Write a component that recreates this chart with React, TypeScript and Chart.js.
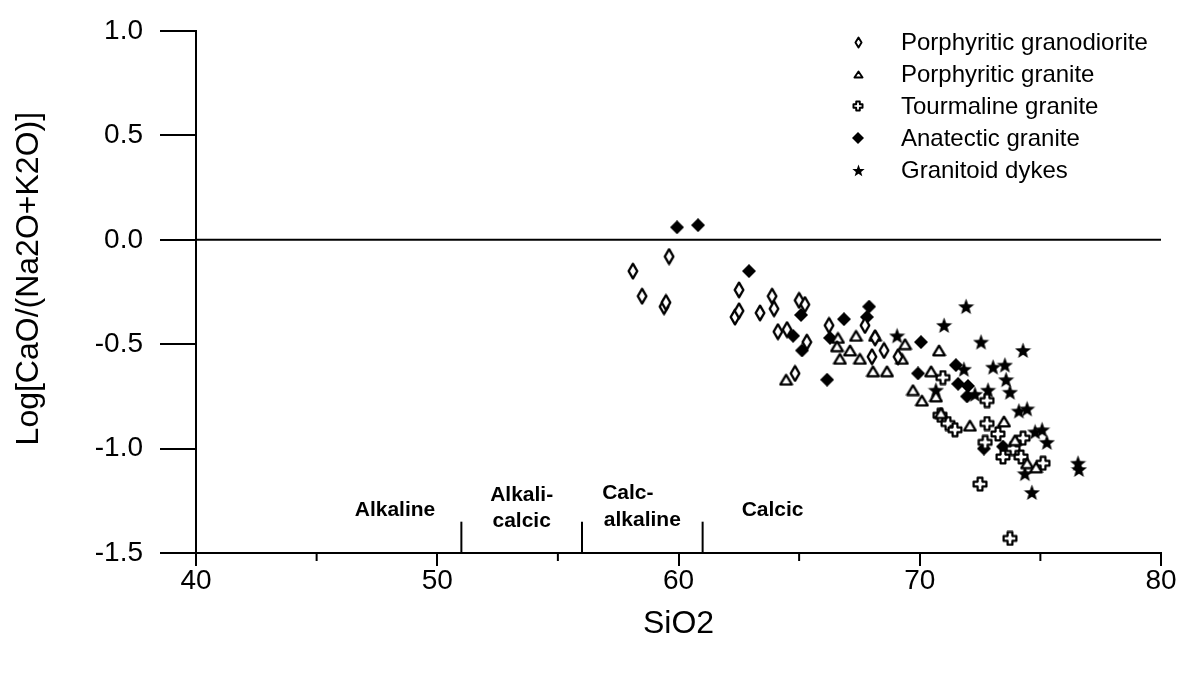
import React, { useEffect, useRef } from 'react';
import { Chart, registerables } from 'chart.js';

Chart.register(...registerables);

const FONT = '"Liberation Sans", Arial, Helvetica, sans-serif';

// ---- data ----
const granodioriteX = [59.61, 58.11, 58.49, 59.4, 59.48, 62.51, 62.34, 62.51, 63.38, 63.88, 63.96, 65.0, 65.24, 64.12, 64.5, 65.32, 64.83, 66.24, 67.73, 68.15, 68.52, 68.02, 69.1];
const granodioriteY = [-0.08, -0.15, -0.27, -0.32, -0.3, -0.24, -0.37, -0.34, -0.35, -0.27, -0.33, -0.29, -0.31, -0.44, -0.43, -0.49, -0.64, -0.41, -0.41, -0.47, -0.53, -0.56, -0.56];

const graniteX = [64.46, 66.61, 67.36, 66.57, 67.11, 66.69, 67.52, 68.15, 68.06, 68.64, 69.39, 69.26, 70.8, 70.47, 69.72, 70.09, 70.67, 70.88, 72.08, 73.49, 73.95, 74.45, 74.82];
const graniteY = [-0.67, -0.47, -0.46, -0.51, -0.53, -0.57, -0.57, -0.46, -0.63, -0.63, -0.5, -0.57, -0.53, -0.63, -0.72, -0.77, -0.75, -0.83, -0.89, -0.87, -0.96, -1.07, -1.09];

const tourmalineX = [70.96, 70.84, 71.17, 71.46, 72.79, 72.79, 72.71, 73.24, 73.45, 73.87, 74.2, 74.28, 75.11, 72.5, 73.74];
const tourmalineY = [-0.66, -0.84, -0.88, -0.91, -0.77, -0.88, -0.97, -0.93, -1.04, -1.0, -1.04, -0.95, -1.07, -1.17, -1.43];

const anatecticX = [59.94, 60.81, 62.92, 65.08, 65.12, 66.16, 66.86, 67.9, 67.81, 66.28, 64.75, 70.05, 69.93, 71.5, 71.59, 72.0, 71.96, 72.66, 73.45];
const anatecticY = [0.06, 0.07, -0.15, -0.36, -0.53, -0.67, -0.38, -0.32, -0.37, -0.47, -0.46, -0.49, -0.64, -0.6, -0.69, -0.7, -0.75, -1.0, -0.99];

const dykesX = [71.92, 71.01, 69.06, 72.54, 74.28, 73.04, 73.53, 71.83, 73.58, 73.74, 70.67, 72.83, 72.29, 74.11, 74.45, 74.78, 75.07, 75.27, 74.36, 74.65, 76.56, 76.6];
const dykesY = [-0.32, -0.41, -0.46, -0.49, -0.53, -0.61, -0.6, -0.62, -0.67, -0.73, -0.72, -0.72, -0.74, -0.82, -0.81, -0.92, -0.91, -0.97, -1.12, -1.21, -1.07, -1.1];

const seriesNames = ['Porphyritic granodiorite', 'Porphyritic granite', 'Tourmaline granite', 'Anatectic granite', 'Granitoid dykes'];

const xMin = 40;
const xMax = 80;
const xStep = 10;
const xMinorTicks = [45, 55, 65, 75];
const yMin = -1.5;
const yMax = 1.0;
const yStep = 0.5;

const referenceLineY = 0;
const boundaryX = [51, 56, 61];
const boundaryTop = -1.35;
const regionLabels = ['Alkaline', 'Alkali-', 'calcic', 'Calc-', 'alkaline', 'Calcic'];
const regionLabelX = [48.25, 53.5, 53.5, 57.9, 58.5, 63.9];
const regionLabelY = [-1.297, -1.221, -1.349, -1.216, -1.344, -1.297];

const xTitle = 'SiO2';
const yTitle = 'Log[CaO/(Na2O+K2O)]';

// ---- marker images ----
type Draw = (ctx: CanvasRenderingContext2D, w: number, h: number) => void;
function makeMarker(w: number, h: number, draw: Draw): HTMLCanvasElement {
  const c = document.createElement('canvas');
  c.width = w;
  c.height = h;
  const ctx = c.getContext('2d')!;
  ctx.lineJoin = 'round';
  draw(ctx, w, h);
  return c;
}

function openDiamond(w: number, h: number, lw: number) {
  return makeMarker(w, h, (ctx) => {
    const m = lw / 2 + 0.5;
    ctx.beginPath();
    ctx.moveTo(w / 2, m);
    ctx.lineTo(w - m, h / 2);
    ctx.lineTo(w / 2, h - m);
    ctx.lineTo(m, h / 2);
    ctx.closePath();
    ctx.fillStyle = '#fff';
    ctx.fill();
    ctx.lineWidth = lw;
    ctx.strokeStyle = '#000';
    ctx.stroke();
  });
}

function filledDiamond(w: number, h: number) {
  return makeMarker(w, h, (ctx) => {
    ctx.beginPath();
    ctx.moveTo(w / 2, 0);
    ctx.lineTo(w, h / 2);
    ctx.lineTo(w / 2, h);
    ctx.lineTo(0, h / 2);
    ctx.closePath();
    ctx.fillStyle = '#000';
    ctx.fill();
  });
}

function openTriangle(w: number, h: number, lw: number) {
  return makeMarker(w, h, (ctx) => {
    const m = lw / 2 + 0.5;
    ctx.beginPath();
    ctx.moveTo(w / 2, m);
    ctx.lineTo(w - m, h - m);
    ctx.lineTo(m, h - m);
    ctx.closePath();
    ctx.fillStyle = '#fff';
    ctx.fill();
    ctx.lineWidth = lw;
    ctx.strokeStyle = '#000';
    ctx.stroke();
  });
}

function openCross(s: number, lw: number, armFrac: number) {
  return makeMarker(s, s, (ctx) => {
    const c = s / 2;
    const r = s / 2 - lw / 2 - 0.5;
    const a = s * armFrac;
    ctx.beginPath();
    ctx.moveTo(c - a, c - r);
    ctx.lineTo(c + a, c - r);
    ctx.lineTo(c + a, c - a);
    ctx.lineTo(c + r, c - a);
    ctx.lineTo(c + r, c + a);
    ctx.lineTo(c + a, c + a);
    ctx.lineTo(c + a, c + r);
    ctx.lineTo(c - a, c + r);
    ctx.lineTo(c - a, c + a);
    ctx.lineTo(c - r, c + a);
    ctx.lineTo(c - r, c - a);
    ctx.lineTo(c - a, c - a);
    ctx.closePath();
    ctx.fillStyle = '#fff';
    ctx.fill();
    ctx.lineWidth = lw;
    ctx.strokeStyle = '#000';
    ctx.stroke();
  });
}

function filledStar(s: number) {
  return makeMarker(s, s, (ctx) => {
    const c = s / 2;
    const ro = s / 2;
    const ri = ro * 0.42;
    ctx.beginPath();
    for (let i = 0; i < 10; i++) {
      const r = i % 2 === 0 ? ro : ri;
      const ang = -Math.PI / 2 + (i * Math.PI) / 5;
      const px = c + r * Math.cos(ang);
      const py = c + 0.6 + r * Math.sin(ang);
      if (i === 0) ctx.moveTo(px, py);
      else ctx.lineTo(px, py);
    }
    ctx.closePath();
    ctx.fillStyle = '#000';
    ctx.fill();
  });
}

function toPoints(xs: number[], ys: number[]) {
  return xs.map((x, i) => ({ x, y: ys[i] }));
}

export default function App() {
  const canvasRef = useRef<HTMLCanvasElement | null>(null);

  useEffect(() => {
    const canvas = canvasRef.current;
    if (!canvas) return;

    const plotMarkers = [
      openDiamond(12, 18, 2.4),
      openTriangle(15, 13, 2.3),
      openCross(16, 2.2, 0.15),
      filledDiamond(14, 14),
      filledStar(17),
    ];
    const legendMarkers = [
      openDiamond(9, 13, 1.9),
      openTriangle(11, 9, 1.9),
      openCross(12, 1.9, 0.15),
      filledDiamond(12, 12),
      filledStar(13),
    ];

    const annotationPlugin = {
      id: 'annotations',
      beforeDatasetsDraw(chart: any) {
        const { ctx } = chart;
        const x = chart.scales.x;
        const y = chart.scales.y;
        ctx.save();
        ctx.strokeStyle = '#000';
        ctx.lineWidth = 2;
        const y0 = y.getPixelForValue(referenceLineY);
        ctx.beginPath();
        ctx.moveTo(x.left, y0);
        ctx.lineTo(x.right, y0);
        ctx.stroke();
        const yb = y.getPixelForValue(yMin);
        const yt = y.getPixelForValue(boundaryTop);
        for (const bx of boundaryX) {
          const px = x.getPixelForValue(bx);
          ctx.beginPath();
          ctx.moveTo(px, yb);
          ctx.lineTo(px, yt);
          ctx.stroke();
        }
        for (const mx of xMinorTicks) {
          const px = x.getPixelForValue(mx);
          ctx.beginPath();
          ctx.moveTo(px, yb);
          ctx.lineTo(px, yb + 8);
          ctx.stroke();
        }
        ctx.font = `bold 21px ${FONT}`;
        ctx.fillStyle = '#000';
        ctx.textAlign = 'center';
        ctx.textBaseline = 'middle';
        regionLabels.forEach((t, i) => {
          ctx.fillText(t, x.getPixelForValue(regionLabelX[i]), y.getPixelForValue(regionLabelY[i]));
        });
        ctx.restore();
      },
      afterDraw(chart: any) {
        const { ctx } = chart;
        ctx.save();
        ctx.font = `24px ${FONT}`;
        ctx.fillStyle = '#000';
        ctx.textAlign = 'left';
        ctx.textBaseline = 'middle';
        const mx = 858;
        const tx = 901;
        const y0 = 42;
        const dy = 32;
        seriesNames.forEach((name, i) => {
          const m = legendMarkers[i];
          const cy = y0 + i * dy;
          ctx.drawImage(m, Math.round(mx - m.width / 2), Math.round(cy - m.height / 2));
          ctx.fillText(name, tx, cy + 1);
        });
        ctx.restore();
      },
    };

    const mk = (label: string, xs: number[], ys: number[], idx: number) => ({
      label,
      data: toPoints(xs, ys),
      pointStyle: plotMarkers[idx],
      pointRadius: 7,
      pointHoverRadius: 7,
      backgroundColor: '#000',
      borderColor: '#000',
      showLine: false,
    });

    const chart = new Chart(canvas, {
      type: 'scatter',
      data: {
        datasets: [
          mk(seriesNames[0], granodioriteX, granodioriteY, 0),
          mk(seriesNames[1], graniteX, graniteY, 1),
          mk(seriesNames[2], tourmalineX, tourmalineY, 2),
          mk(seriesNames[3], anatecticX, anatecticY, 3),
          mk(seriesNames[4], dykesX, dykesY, 4),
        ],
      },
      options: {
        animation: false,
        responsive: false,
        events: [],
        layout: { padding: { top: 24, right: 31, left: 0, bottom: 0 } },
        plugins: {
          legend: { display: false },
          tooltip: { enabled: false },
        },
        scales: {
          x: {
            type: 'linear',
            min: xMin,
            max: xMax,
            afterFit: (scale: any) => {
              scale.height = 123;
            },
            ticks: {
              stepSize: xStep,
              color: '#000',
              padding: 1,
              font: { family: FONT, size: 28, lineHeight: 1 },
              maxRotation: 0,
              autoSkip: false,
            },
            grid: {
              display: true,
              drawOnChartArea: false,
              drawTicks: true,
              tickLength: 13,
              color: '#000',
              lineWidth: 2,
            },
            border: { display: true, color: '#000', width: 2 },
            title: {
              display: true,
              text: xTitle,
              color: '#000',
              font: { family: FONT, size: 32 },
              padding: { top: 0, bottom: 33 },
            },
          },
          y: {
            type: 'linear',
            min: yMin,
            max: yMax,
            afterFit: (scale: any) => {
              scale.width = 196;
            },
            ticks: {
              stepSize: yStep,
              color: '#000',
              padding: 17,
              font: { family: FONT, size: 28, lineHeight: 1 },
              callback: (v: any) => Number(v).toFixed(1),
              autoSkip: false,
            },
            grid: {
              display: true,
              drawOnChartArea: false,
              drawTicks: true,
              tickLength: 36,
              color: '#000',
              lineWidth: 2,
            },
            border: { display: true, color: '#000', width: 2 },
            title: {
              display: true,
              text: '   ' + yTitle,
              color: '#000',
              font: { family: FONT, size: 32 },
              padding: { top: 10, bottom: 0 },
            },
          },
        },
      },
      plugins: [annotationPlugin],
    } as any);

    return () => {
      chart.destroy();
    };
  }, []);

  return (
    <div style={{ position: 'fixed', left: 0, top: 0, width: 1192, height: 676, background: '#fff' }}>
      <canvas ref={canvasRef} width={1192} height={676} style={{ display: 'block' }} />
    </div>
  );
}
